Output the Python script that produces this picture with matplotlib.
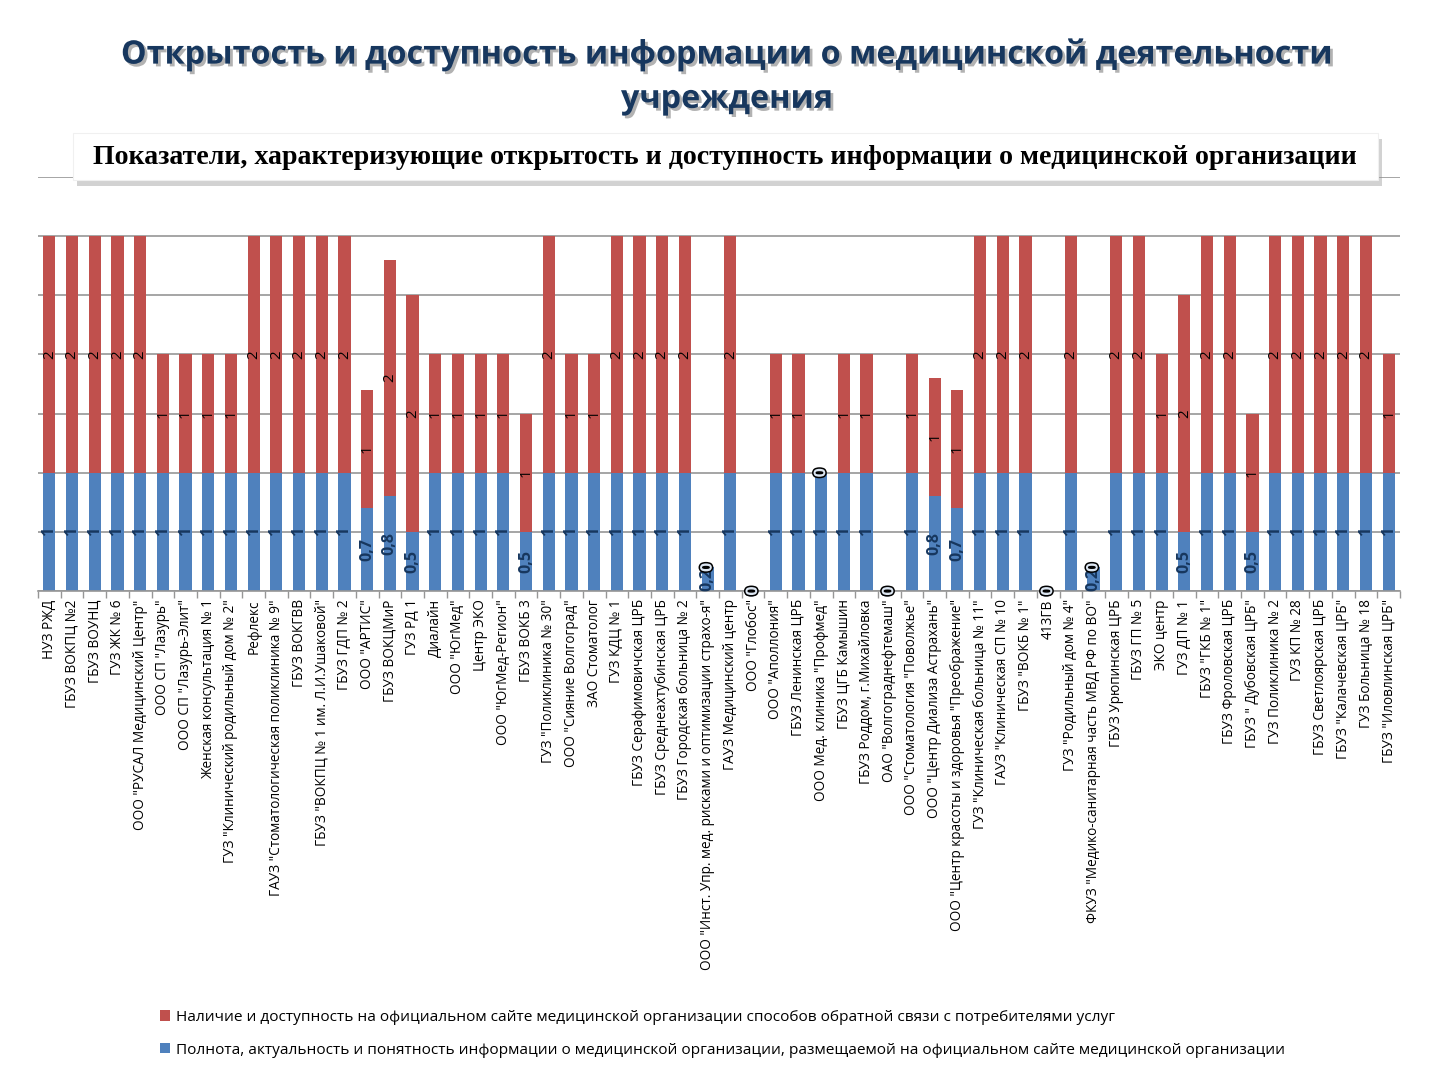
import matplotlib
matplotlib.use("Agg")
import matplotlib.pyplot as plt
import matplotlib.patheffects as pe
from matplotlib.patches import Rectangle, Patch
import numpy as np

categories = [
    'НУЗ РЖД', 'ГБУЗ ВОКПЦ №2', 'ГБУЗ ВОУНЦ', 'ГУЗ ЖК № 6',
    'ООО "РУСАЛ Медицинский Центр"', 'ООО СП "Лазурь"', 'ООО СП "Лазурь-Элит"',
    'Женская консультация № 1', 'ГУЗ "Клинический родильный дом № 2"', 'Рефлекс',
    'ГАУЗ "Стоматологическая поликлиника № 9"', 'ГБУЗ ВОКГВВ',
    'ГБУЗ "ВОКПЦ № 1 им. Л.И.Ушаковой"', 'ГБУЗ ГДП № 2', 'ООО "АРТИС"',
    'ГБУЗ ВОКЦМиР', 'ГУЗ РД 1', 'Диалайн', 'ООО "ЮгМед"', 'Центр ЭКО',
    'ООО "ЮгМед-Регион"', 'ГБУЗ ВОКБ 3', 'ГУЗ "Поликлиника № 30"',
    'ООО "Сияние Волгоград"', 'ЗАО Стоматолог', 'ГУЗ КДЦ № 1',
    'ГБУЗ Серафимовичская ЦРБ', 'ГБУЗ Среднеахтубинская ЦРБ',
    'ГБУЗ Городская больница № 2',
    'ООО "Инст. Упр. мед. рисками и оптимизации страхо-я"',
    'ГАУЗ Медицинский центр', 'ООО "Глобос"', 'ООО "Аполлония"',
    'ГБУЗ Ленинская ЦРБ', 'ООО Мед. клиника "Профмед"', 'ГБУЗ ЦГБ Камышин',
    'ГБУЗ Роддом, г.Михайловка', 'ОАО "Волгограднефтемаш"',
    'ООО "Стоматология "Поволжье"', 'ООО "Центр Диализа Астрахань"',
    'ООО "Центр красоты и здоровья "Преображение"',
    'ГУЗ "Клиническая больница № 11"', 'ГАУЗ "Клиническая СП № 10',
    'ГБУЗ "ВОКБ № 1"', '413ГВ', 'ГУЗ "Родильный дом № 4"',
    'ФКУЗ "Медико-санитарная часть МВД РФ по ВО"', 'ГБУЗ Урюпинская ЦРБ',
    'ГБУЗ ГП № 5', 'ЭКО центр', 'ГУЗ ДП № 1', 'ГБУЗ "ГКБ № 1"',
    'ГБУЗ Фроловская ЦРБ', 'ГБУЗ " Дубовская ЦРБ"', 'ГУЗ Поликлиника № 2',
    'ГУЗ КП № 28', 'ГБУЗ Светлоярская ЦРБ', 'ГБУЗ "Калачевская ЦРБ"',
    'ГУЗ Больница № 18', 'ГБУЗ "Иловлинская ЦРБ"',
]

completeness = [
    1, 1, 1, 1, 1, 1, 1, 1, 1, 1,
    1, 1, 1, 1, 0.7, 0.8, 0.5, 1, 1, 1,
    1, 0.5, 1, 1, 1, 1, 1, 1, 1, 0.2,
    1, 0, 1, 1, 1, 1, 1, 0, 1, 0.8,
    0.7, 1, 1, 1, 0, 1, 0.2, 1, 1, 1,
    0.5, 1, 1, 0.5, 1, 1, 1, 1, 1, 1,
]

feedback = [
    2, 2, 2, 2, 2, 1, 1, 1, 1, 2,
    2, 2, 2, 2, 1, 2, 2, 1, 1, 1,
    1, 1, 2, 1, 1, 2, 2, 2, 2, 0,
    2, 0, 1, 1, 0, 1, 1, 0, 1, 1,
    1, 2, 2, 2, 0, 2, 0, 2, 2, 1,
    2, 2, 2, 1, 2, 2, 2, 2, 2, 1,
]

series_names = [
    'Наличие и доступность на официальном сайте медицинской организации способов обратной связи с потребителями услуг',
    'Полнота, актуальность и понятность информации о медицинской организации, размещаемой на официальном сайте медицинской организации',
]

title = 'Открытость и доступность информации о медицинской деятельности\nучреждения'
subtitle = 'Показатели, характеризующие открытость и доступность информации о медицинской организации'

BLUE = '#4F81BD'
RED = '#C0504D'
NAVY = '#17375E'

plt.rcParams['font.family'] = ['Open Sans', 'DejaVu Sans']

fig = plt.figure(figsize=(14.4, 10.8), dpi=100)
fig.patch.set_facecolor('white')

ax = fig.add_axes([38/1440, 1 - 591/1080, 1362/1440, (591-177)/1080])
x = np.arange(len(categories))
comp = np.array(completeness, dtype=float)
feed = np.array(feedback, dtype=float)

b1 = ax.bar(x, comp, width=0.54, color=BLUE, zorder=3)
b2 = ax.bar(x, feed, width=0.54, bottom=comp, color=RED, zorder=3)

def fmt(v):
    return f'{v:g}'.replace('.', ',')

t1 = ax.bar_label(b1, labels=[fmt(v) for v in comp], label_type='center',
                  rotation=90, color=NAVY, fontsize=11.5, fontweight='bold', zorder=5)
t2 = ax.bar_label(b2, labels=[fmt(v) for v in feed], label_type='center',
                  rotation=90, color='black', fontsize=10.8, zorder=6)
for t, v in zip(t2, feed):
    if v == 0:
        t.set_color('#DCE6F2')
        t.set_fontweight('bold')
        t.set_fontsize(11.5)
        t.set_path_effects([pe.withStroke(linewidth=2.2, foreground='black')])

ax.set_xlim(-0.5, len(categories) - 0.5)
ax.set_ylim(0, 3.5)
ax.set_yticks(np.arange(0, 3.51, 0.5))
ax.yaxis.grid(True, color='#969696', linewidth=1.2, zorder=0)
ax.tick_params(axis='y', left=False, labelleft=False)
ax.set_xticks(x)
ax.set_xticklabels(categories, rotation=90, fontsize=9.8)
ax.set_xticks(np.arange(-0.5, len(categories), 1), minor=True)
ax.tick_params(axis='x', which='major', length=0, pad=6)
ax.tick_params(axis='x', which='minor', length=5, color='#969696', width=1)
for s in ['left', 'right', 'top']:
    ax.spines[s].set_visible(False)
ax.spines['bottom'].set_color('#969696')
ax.spines['bottom'].set_linewidth(1.2)
ax.spines['bottom'].set_zorder(4)

# Title
fig.text(727/1440, 1 - 77/1080, title, ha='center', va='center',
         fontsize=23.3, fontweight='bold', color=NAVY, linespacing=1.45,
         path_effects=[pe.withSimplePatchShadow(offset=(2, -2), shadow_rgbFace='#7f7f7f', alpha=0.6)])

# Subtitle box
box = Rectangle((73/1440, 1 - 180/1080), (1378-73)/1440, 47/1080,
                transform=fig.transFigure, facecolor='white', edgecolor='#F0F0F0',
                linewidth=0.8, zorder=10,
                path_effects=[pe.withSimplePatchShadow(offset=(3, -4), shadow_rgbFace='#909090', alpha=0.4)])
fig.patches.append(box)
fig.text(725/1440, 1 - 157/1080, subtitle, ha='center', va='center',
         fontsize=20.1, fontweight='bold', family='Liberation Serif', color='black', zorder=11)

handles = [Patch(facecolor=RED), Patch(facecolor=BLUE)]
fig.legend(handles, series_names, loc='upper left', bbox_to_anchor=(146/1440, 1 - 996/1080),
           frameon=False, fontsize=11.1, handlelength=0.65, handleheight=0.65,
           handletextpad=0.4, labelspacing=1.15)

fig.savefig('out.png', dpi=100, facecolor='white')
